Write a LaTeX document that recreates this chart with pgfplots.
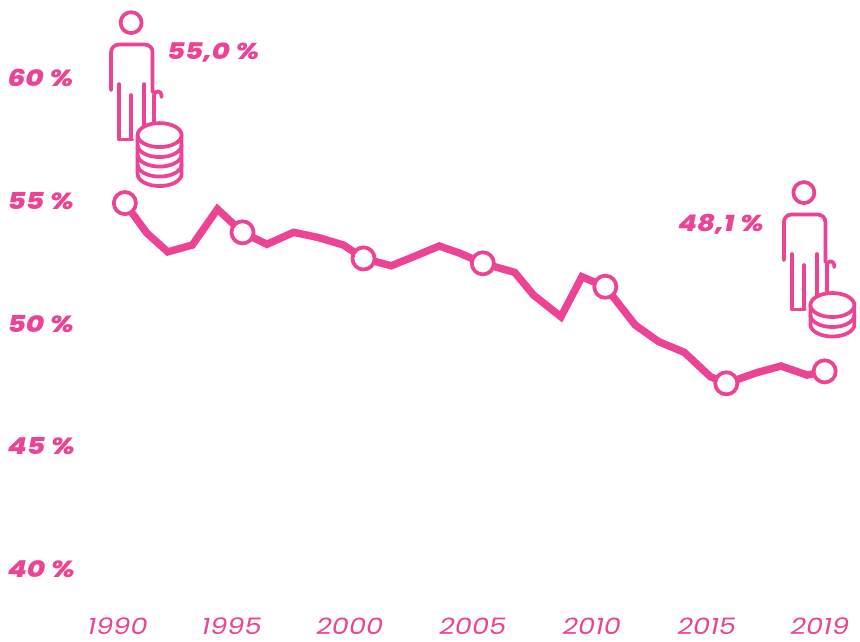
\documentclass[border=0pt]{standalone}
\usepackage{pgfplots}
\pgfplotsset{compat=1.18}
\usepackage{fontspec}
\setmainfont{Poppins}[FakeStretch=1.2]
\newfontfamily\heavy{Poppins ExtraBold Italic}[FakeStretch=1.2]
\definecolor{pk}{HTML}{EC4394}
\newcommand{\person}[3]{%
\begin{scope}[shift={(#1,#2)},draw=pk,line width=2.8pt,line cap=round,line join=round]
\draw (131,22.5) circle (10.5);
\draw (111,90) -- (111,52) arc (180:270:7.5) -- (145,44.5) arc (270:360:7.5) -- (152.5,92);
\draw (119,84) -- (119,139.5) -- (132,139.5);
\draw (131,95) -- (131,139);
\draw (144,84) -- (144,128);
\draw (154,122) -- (154,95) arc (180:360:3.7) -- (161.4,97);
\draw[fill=white] (137.5,135) -- (137.5,#3) arc (180:0:22 and 12) -- (181.5,135);
\foreach \c in {145,154.5,164.5,174.5}{\ifdim\c pt<#3pt \draw (137.5,\c) arc (180:0:22 and 12);\fi}
\draw[fill=white] (159.5,135) ellipse (22 and 12);
\end{scope}}
\begin{document}
\begin{tikzpicture}[x=0.75pt,y=-0.75pt]
\path (0,0) rectangle (860,641);
\begin{axis}[
  at={(0pt,-480.75pt)},anchor=south west,
  scale only axis,width=645pt,height=480.75pt,
  xmin=1984.876,xmax=2020.54,ymin=37.05,ymax=63.32,
  axis line style={draw=none},
  major tick length=0pt,
  xtick={1989.75,1994.48,1999.38,2004.48,2009.42,2014.19,2018.88},
  xticklabels={1990,1995,2000,2005,2010,2015,2019},
  ytick={60.12,55.08,50.04,45.04,40},
  yticklabels={60 \%,55 \%,50 \%,45 \%,40 \%},
  xticklabel style={anchor=south,yshift=1pt,font=\fontsize{17}{20}\selectfont\itshape,text=pk},
  yticklabel style={anchor=west,xshift=2pt,font=\fontsize{17.5}{20}\selectfont\heavy,text=pk},
  clip=false,
]
\addplot[pk,line width=5.6pt,line join=miter] coordinates {
(1990.05,55.0)(1990.96,53.77)(1991.83,53.0)(1992.85,53.28)(1993.89,54.75)(1994.93,53.80)(1995.94,53.31)(1997.05,53.80)(1998.07,53.59)(1999.12,53.28)
(1999.95,52.73)(2001.10,52.43)(2002.10,52.83)(2003.09,53.24)(2003.96,52.94)(2004.90,52.53)(2006.22,52.16)(2007.00,51.23)(2008.14,50.34)(2009.01,51.98)
(2009.98,51.57)(2011.22,50.0)(2012.19,49.32)(2013.26,48.88)(2014.34,47.88)(2015.00,47.61)(2016.27,48.05)(2017.27,48.32)(2018.35,47.95)(2019.08,48.1)};
\addplot[only marks,mark=*,mark size=8.3pt,mark options={draw=pk,fill=white,line width=2.8pt}] coordinates {
(1990.05,55.0)(1994.93,53.80)(1999.95,52.73)(2004.90,52.53)(2009.98,51.57)(2015.00,47.61)(2019.08,48.1)};
\end{axis}
\person{0}{0}{174}
\person{673}{170}{154.5}
\node[text=pk,font=\fontsize{17.2}{20}\selectfont\heavy] at (213,52) {55,0 \%};
\node[text=pk,font=\fontsize{17.2}{20}\selectfont\heavy] at (721,224) {48,1 \%};
\end{tikzpicture}
\end{document}
